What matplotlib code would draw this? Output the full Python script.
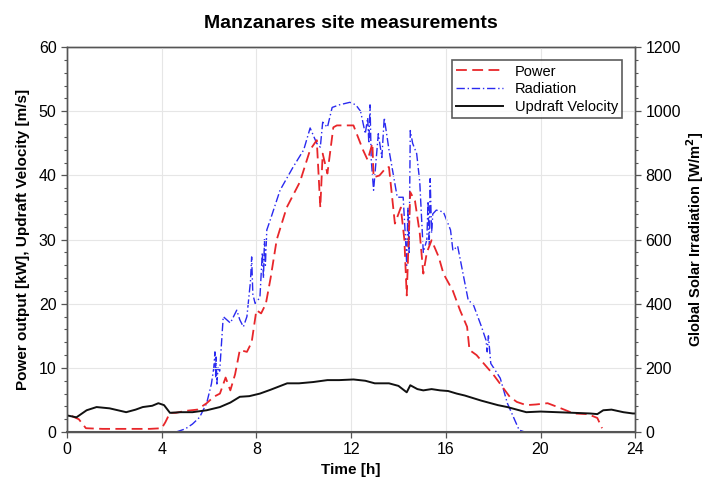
import matplotlib
matplotlib.use("Agg")
import matplotlib.pyplot as plt
from matplotlib.ticker import MultipleLocator

plt.rcParams['font.family'] = ['Liberation Sans', 'DejaVu Sans']

# Power output [kW] (left axis)
power_t = [0.2, 0.5, 0.8, 1.5, 2.5, 3.5, 4.0, 4.15, 4.35, 4.6, 5.0, 5.5, 5.9, 6.2, 6.46, 6.7, 6.9, 7.1,
           7.3, 7.6, 7.8, 8.0, 8.2, 8.4, 8.6, 8.86, 9.28, 9.84, 10.27, 10.55, 10.7, 10.8, 11.0,
           11.25, 11.4, 11.7, 12.1, 12.5, 12.7, 12.9, 12.95, 13.2, 13.5, 13.6, 13.85, 14.1, 14.25,
           14.35, 14.5, 14.7, 14.9, 15.05, 15.2, 15.4, 15.7, 15.9, 16.3, 16.6, 16.9, 17.0, 17.3,
           17.6, 18.0, 18.4, 18.7, 19.0, 19.4, 19.8, 20.3, 20.8, 21.4, 22.0, 22.4, 22.6]
power_v = [2.5, 2.0, 0.6, 0.5, 0.5, 0.5, 0.6, 1.5, 3.0, 3.0, 3.3, 3.5, 4.5, 5.5, 6.0, 8.5, 6.5, 9.0,
           12.8, 12.5, 14.0, 19.0, 18.5, 20.0, 24.0, 30.0, 35.0, 39.0, 44.0, 45.5, 35.0, 43.4, 40.3,
           47.5, 47.8, 47.8, 47.8, 44.0, 42.4, 45.0, 39.7, 40.0, 41.3, 41.3, 32.5, 35.0, 30.0,
           21.3, 37.4, 36.0, 31.0, 24.7, 28.0, 29.9, 27.3, 24.7, 22.0, 19.0, 16.4, 12.8, 12.0,
           10.7, 9.0, 7.0, 5.5, 4.7, 4.2, 4.3, 4.5, 3.8, 2.9, 2.8, 2.2, 0.6]

# Global solar irradiation [W/m2] (right axis)
rad_t = [4.6, 5.0, 5.3, 5.6, 5.9, 6.1, 6.2, 6.25, 6.28, 6.3, 6.33, 6.38, 6.45, 6.6, 6.9, 7.17, 7.3,
         7.45, 7.6, 7.75, 7.8, 7.85, 7.95, 8.15, 8.25, 8.3, 8.34, 8.38, 8.44, 8.58, 9.0, 9.55,
         10.0, 10.27, 10.55, 10.7, 10.8, 11.0, 11.2, 11.5, 11.95, 12.2, 12.4, 12.6, 12.7, 12.75,
         12.8, 12.85, 12.95, 13.15, 13.3, 13.4, 13.6, 13.95, 14.2, 14.3, 14.35, 14.4, 14.45, 14.5,
         14.6, 14.77, 14.9, 15.05, 15.2, 15.25, 15.3, 15.34, 15.4, 15.45, 15.6, 15.9, 16.2, 16.3,
         16.5, 16.95, 17.15, 17.5, 17.7, 17.75, 17.8, 17.9, 18.3, 18.6, 19.1, 19.35]
rad_v = [0, 10, 25, 46, 90, 150, 200, 250, 170, 234, 150, 200, 190, 360, 340, 380, 350,
         328, 360, 470, 546, 430, 400, 420, 560, 480, 600, 520, 630, 660, 754, 826,
         880, 948, 900, 888, 966, 950, 1012, 1020, 1028, 1020, 1000, 930, 980, 900,
         1020, 850, 754, 930, 856, 980, 880, 732, 732, 600, 520, 700, 560, 940,
         900, 868, 780, 560, 600, 720, 580, 790, 620, 680, 692, 686, 630, 566,
         580, 410, 400, 330, 286, 250, 300, 214, 168, 90, 6, 0]

# Updraft velocity [m/s] (left axis)
vel_t = [0.0, 0.4, 0.83, 1.25, 1.8, 2.5, 2.9, 3.2, 3.6, 3.86, 4.1, 4.35, 4.8, 5.3, 5.9, 6.46, 6.9,
         7.3, 7.7, 8.15, 8.6, 9.3, 9.8, 10.4, 11.0, 11.5, 12.1, 12.6, 13.0, 13.6, 14.0, 14.35,
         14.5, 14.8, 15.05, 15.4, 15.76, 16.1, 16.46, 16.8, 17.15, 17.5, 17.9, 18.2, 18.6, 19.0,
         19.4, 20.0, 20.7, 21.4, 22.1, 22.4, 22.65, 23.0, 23.5, 23.9, 24.0]
vel_v = [2.6, 2.3, 3.4, 3.9, 3.7, 3.1, 3.5, 3.9, 4.1, 4.5, 4.2, 3.0, 3.1, 3.1, 3.4, 3.9, 4.6,
         5.5, 5.6, 6.0, 6.6, 7.6, 7.6, 7.8, 8.1, 8.1, 8.2, 8.0, 7.6, 7.6, 7.2, 6.2,
         7.3, 6.7, 6.5, 6.7, 6.5, 6.4, 6.0, 5.7, 5.3, 4.9, 4.5, 4.2, 3.9, 3.5,
         3.1, 3.2, 3.1, 3.0, 2.9, 2.8, 3.4, 3.5, 3.1, 2.9, 2.9]

x_ticks = [0, 4, 8, 12, 16, 20, 24]

fig = plt.figure(figsize=(7.05, 4.91), dpi=100)
ax = fig.add_axes([0.095, 0.12, 0.806, 0.784])
ax2 = ax.twinx()

l1, = ax.plot(power_t, power_v, color='#e8262a', lw=1.3, ls=(0, (6, 3)), label='Power')
l2, = ax2.plot(rad_t, rad_v, color='#2a2af0', lw=1.0, ls=(0, (6, 2, 1, 2)), label='Radiation')
l3, = ax.plot(vel_t, vel_v, color='#111111', lw=1.4, label='Updraft Velocity')

ax.set_xlim(0, 24)
ax.set_ylim(0, 60)
ax2.set_ylim(0, 1200)
ax.set_xticks(x_ticks)
ax.yaxis.set_major_locator(MultipleLocator(10))
ax.yaxis.set_minor_locator(MultipleLocator(2))
ax2.yaxis.set_major_locator(MultipleLocator(200))
ax2.yaxis.set_minor_locator(MultipleLocator(40))

ax.grid(True, which='major', color='#e6e6e6', lw=0.8)
ax.set_axisbelow(True)

for a in (ax, ax2):
    for s in a.spines.values():
        s.set_color('#555555')
        s.set_linewidth(1.0)
    a.tick_params(which='major', length=4, width=0.9, color='#555555', labelsize=11.5, direction='out')
    a.tick_params(which='minor', length=2.5, width=0.8, color='#555555', direction='out')
ax.spines['bottom'].set_linewidth(1.5)

ax.set_title('Manzanares site measurements', fontsize=14, fontweight='bold', pad=14)
ax.set_xlabel('Time [h]', fontsize=11, fontweight='bold')
ax.set_ylabel('Power output [kW], Updraft Velocity [m/s]', fontsize=11, fontweight='bold', labelpad=6)
ax2.set_ylabel('Global Solar Irradiation [W/m$^\\mathbf{2}$]', fontsize=10.5, fontweight='bold', labelpad=2)

leg = ax.legend(handles=[l1, l2, l3], loc='upper right', bbox_to_anchor=(0.99, 0.985),
                fontsize=10.5, frameon=True, fancybox=False, edgecolor='#333333',
                handlelength=3.2, borderpad=0.3, labelspacing=0.25)
leg.get_frame().set_linewidth(1.2)
ax.set_zorder(ax2.get_zorder() + 1)
ax.patch.set_visible(False)

fig.savefig('out.png', dpi=100)
